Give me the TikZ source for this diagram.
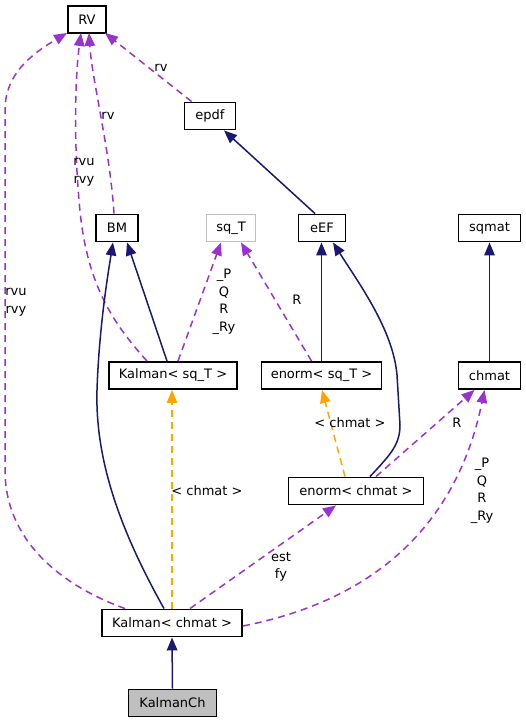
\documentclass[tikz,border=0pt]{standalone}
\usepackage{fontspec}
\setmainfont{DejaVu Sans}
\usetikzlibrary{arrows.meta}
\definecolor{navy}{HTML}{191970}
\definecolor{orch}{HTML}{9A32CD}
\definecolor{orng}{HTML}{FFA500}
\definecolor{grayb}{HTML}{BFBFBF}
\tikzset{
  box/.style={draw=black, line width=1.9pt, fill=white, inner sep=0pt, minimum height=27pt, font=\fontsize{13}{15}\selectfont},
  lbl/.style={inner sep=0pt, align=center, font=\fontsize{13}{17.5}\selectfont},
  inh/.style={draw=navy, line width=1.5pt, -{Triangle[length=13pt,width=10.5pt]}},
  use/.style={draw=orch, line width=1.5pt, dash pattern=on 7pt off 5pt, -{Triangle[length=13pt,width=10.5pt]}},
  tpl/.style={draw=orng, line width=1.5pt, dash pattern=on 7pt off 5pt, -{Triangle[length=13pt,width=10.5pt]}},
}
\begin{document}
\begin{tikzpicture}[x=1pt,y=-1pt]
\useasboundingbox (0,0) rectangle (525,722);
% nodes
\node[box, minimum width=38pt] (RV) at (87,19.5) {RV};
\node[box, minimum width=51pt] (epdf) at (210,116) {epdf};
\node[box, minimum width=42pt] (BM) at (117,228) {BM};
\node[box, draw=grayb, minimum width=49pt] (sqT) at (231,228) {sq\_T};
\node[box, minimum width=47pt] (eEF) at (322,228) {eEF};
\node[box, minimum width=62pt] (sqmat) at (489.5,228) {sqmat};
\node[box, minimum width=128pt] (KsqT) at (173,375.5) {Kalman< sq\_T >};
\node[box, minimum width=120pt] (EsqT) at (321.5,375.5) {enorm< sq\_T >};
\node[box, minimum width=62pt] (chmat) at (489.5,375.5) {chmat};
\node[box, minimum width=135pt] (Ech) at (356,491) {enorm< chmat >};
\node[box, minimum width=140pt] (Kch) at (172,623) {Kalman< chmat >};
\node[box, fill=grayb, minimum width=88pt] (KCh) at (172.5,703) {KalmanCh};
% coordinates on RV
\coordinate (rvA) at (67,33);
\coordinate (rvB) at (81,33);
\coordinate (rvC) at (89,33);
\coordinate (rvD) at (105,33);
% edges
\draw[use] ([xshift=8pt]epdf.north west) -- (rvD);
\node[lbl] (l1) at (161,68) {rv};
\draw[use] ([xshift=-3pt]BM.north) .. controls (110,150) and (92,80) .. (rvC);
\node[lbl] (l2) at (108,116) {rv};
\draw[use] ([xshift=-26pt]KsqT.north) .. controls (110,320) and (85,280) .. (79,200) .. controls (73,130) and (76,70) .. (rvB);
\node[lbl] (l3) at (84,172) {rvu\\rvy};
\draw[use] ([xshift=-47pt]Kch.north) .. controls (60,585) and (5,540) .. (5,470) -- (5,110) .. controls (5,75) and (30,55) .. (rvA);
\node[lbl] (l4) at (16,302) {rvu\\rvy};
\draw[inh] ([xshift=-7pt]eEF.north) -- ([xshift=14pt]epdf.south);
\draw[inh] ([xshift=-6pt]KsqT.north) -- ([xshift=10pt]BM.south);
\draw[inh] ([xshift=-8pt]Kch.north) .. controls (120,530) and (95,460) .. (97,390) .. controls (99,330) and (107,280) .. ([xshift=-4pt]BM.south);
\draw[use] ([xshift=5pt]KsqT.north) -- ([xshift=-10pt]sqT.south);
\node[lbl] (l5) at (224,302) {\_P\\Q\\R\\\_Ry};
\draw[use] ([xshift=-10pt]EsqT.north) -- ([xshift=10pt]sqT.south);
\node[lbl] (l6) at (297,300) {R};
\draw[inh] (EsqT.north) -- (EsqT.north |- eEF.south);
\draw[inh] ([xshift=14pt]Ech.north) .. controls (390,455) and (400,445) .. (400,425) -- (397,375) .. controls (393,330) and (360,285) .. ([xshift=11pt]eEF.south);
\draw[inh] (chmat.north) -- (sqmat.south);
\draw[tpl] (Kch.north) -- (Kch.north |- KsqT.south);
\node[lbl] (l7) at (207,491) {< chmat >};
\draw[tpl] ([xshift=-11pt]Ech.north) -- ([xshift=0.5pt]EsqT.south);
\node[lbl] (l8) at (350,422.5) {< chmat >};
\draw[use] ([xshift=20pt]Ech.north) -- ([xshift=-15pt]chmat.south);
\node[lbl] (l9) at (457,422.5) {R};
\draw[use] ([xshift=18pt]Kch.north) -- ([xshift=-20pt]Ech.south);
\node[lbl] (l10) at (281,567) {est\\fy};
\draw[use] ([yshift=-3pt]Kch.east) .. controls (400,595) and (462,500) .. ([xshift=-5pt]chmat.south);
\node[lbl] (l11) at (482,491) {\_P\\Q\\R\\\_Ry};
\draw[inh] (KCh.north) -- (Kch.south);
\end{tikzpicture}
\end{document}
